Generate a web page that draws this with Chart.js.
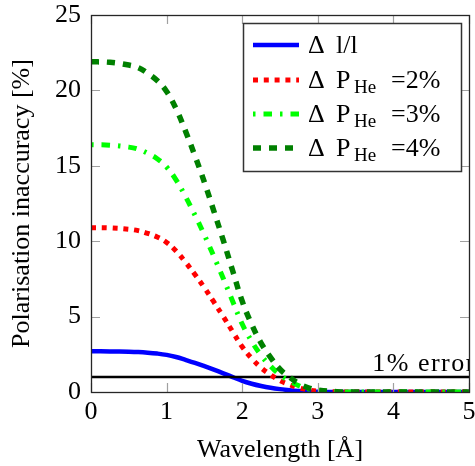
<!DOCTYPE html>
<html><head><meta charset="utf-8">
<script src="https://cdn.jsdelivr.net/npm/chart.js@4/dist/chart.umd.min.js"></script>
<style>html,body{margin:0;padding:0;background:#fff}#wrap{width:475px;height:466px}</style>
</head><body><div id="wrap"><canvas id="c" width="475" height="466"></canvas></div>
<script>
// ---- data ----
const wavelength = [0, 0.25, 0.5, 0.625, 0.75, 0.875, 1, 1.125, 1.25, 1.375, 1.5, 1.625, 1.75, 1.875, 2, 2.125, 2.25, 2.375, 2.5, 2.625, 2.75, 2.875, 3, 3.25, 3.5, 4, 4.5, 5];
const deltaLL = [2.7, 2.69, 2.67, 2.65, 2.61, 2.55, 2.46, 2.32, 2.13, 1.93, 1.71, 1.48, 1.24, 0.99, 0.74, 0.55, 0.40, 0.28, 0.19, 0.12, 0.07, 0.035, 0.016, 0.003, 0, 0, 0, 0];
const deltaP2 = [10.9, 10.88, 10.79, 10.7, 10.52, 10.28, 9.92, 9.35, 8.61, 7.79, 6.92, 5.97, 5.0, 3.99, 3.0, 2.23, 1.61, 1.14, 0.75, 0.49, 0.27, 0.14, 0.065, 0.011, 0, 0, 0, 0];
const deltaP3 = [16.4, 16.37, 16.24, 16.1, 15.83, 15.47, 14.92, 14.07, 12.96, 11.73, 10.41, 8.99, 7.53, 6.0, 4.51, 3.36, 2.43, 1.72, 1.13, 0.74, 0.41, 0.21, 0.1, 0.016, 0, 0, 0, 0];
const deltaP4 = [21.9, 21.86, 21.68, 21.51, 21.13, 20.65, 19.93, 18.79, 17.3, 15.66, 13.91, 12.0, 10.05, 8.02, 6.02, 4.49, 3.24, 2.3, 1.51, 0.99, 0.55, 0.28, 0.13, 0.02, 0, 0, 0, 0];
const errorX = [0, 5];
const errorY = [1, 1];
const errorLabel = '1% error';
const xTicks = [0, 1, 2, 3, 4, 5];
const yTicks = [0, 5, 10, 15, 20, 25];
const xTitle = 'Wavelength [Å]';
const yTitle = 'Polarisation inaccuracy [%]';
const legendRows = [
  {pre: 'Δ', main: 'l/l', sub: '', post: ''},
  {pre: 'Δ', main: 'P', sub: 'He', post: '=2%'},
  {pre: 'Δ', main: 'P', sub: 'He', post: '=3%'},
  {pre: 'Δ', main: 'P', sub: 'He', post: '=4%'}
];

const FONT = "'Liberation Serif', 'Times New Roman', serif";
const pts = (xs, ys) => xs.map((x, i) => ({x, y: ys[i]}));

const datasets = [
  {label: 'Δ l/l', data: pts(wavelength, deltaLL), borderColor: '#0000ff', borderWidth: 4.5, borderDash: [], order: 5},
  {label: 'Δ PHe =2%', data: pts(wavelength, deltaP2), borderColor: '#ff0000', borderWidth: 5, borderDash: [5, 5.8], order: 3},
  {label: 'Δ PHe =3%', data: pts(wavelength, deltaP3), borderColor: '#00ff00', borderWidth: 5, borderDash: [2.5, 8, 8.5, 8], order: 2},
  {label: 'Δ PHe =4%', data: pts(wavelength, deltaP4), borderColor: '#008000', borderWidth: 5.5, borderDash: [8, 8], order: 1},
  {label: 'err', data: pts(errorX, errorY), borderColor: '#000000', borderWidth: 2.5, borderDash: [], order: 4, tension: 0}
].map(d => Object.assign({pointRadius: 0, fill: false, tension: 0.4, borderCapStyle: 'butt', borderJoinStyle: 'round'}, d));

const deco = {
  id: 'deco',
  afterDraw(chart) {
    const ctx = chart.ctx, a = chart.chartArea;
    const xs = chart.scales.x, ys = chart.scales.y;
    ctx.save();
    // "1% error" label, clipped at the plot area
    ctx.save();
    ctx.beginPath(); ctx.rect(a.left, a.top, a.right - a.left, a.bottom - a.top); ctx.clip();
    ctx.font = '26px ' + FONT; ctx.fillStyle = '#000'; ctx.textBaseline = 'alphabetic'; ctx.textAlign = 'left';
    ctx.letterSpacing = '1.5px';
    ctx.fillText(errorLabel, xs.getPixelForValue(3.72), ys.getPixelForValue(1) - 6);
    ctx.letterSpacing = '0px';
    ctx.restore();
    // inner ticks on all sides
    ctx.strokeStyle = '#a0a0a0'; ctx.lineWidth = 1.2; ctx.setLineDash([]);
    const TL = 9;
    xs.ticks.forEach(t => {
      const px = Math.round(xs.getPixelForValue(t.value)) + 0.5;
      ctx.beginPath(); ctx.moveTo(px, a.bottom); ctx.lineTo(px, a.bottom - TL);
      ctx.moveTo(px, a.top); ctx.lineTo(px, a.top + TL); ctx.stroke();
    });
    ys.ticks.forEach(t => {
      const py = Math.round(ys.getPixelForValue(t.value)) + 0.5;
      ctx.beginPath(); ctx.moveTo(a.left, py); ctx.lineTo(a.left + TL, py);
      ctx.moveTo(a.right, py); ctx.lineTo(a.right - TL, py); ctx.stroke();
    });
    // frame
    ctx.strokeStyle = '#262626'; ctx.lineWidth = 1.3;
    ctx.strokeRect(Math.round(a.left) + 0.5, Math.round(a.top) + 0.5, Math.round(a.right - a.left), Math.round(a.bottom - a.top));
    // legend
    const L = {left: 243, top: 23, right: 461, bottom: 171};
    ctx.fillStyle = '#fff';
    ctx.fillRect(L.left, L.top, L.right - L.left, L.bottom - L.top);
    ctx.strokeStyle = '#333'; ctx.lineWidth = 1.5;
    ctx.strokeRect(L.left + 0.5, L.top + 0.5, L.right - L.left, L.bottom - L.top);
    const rowY = [45, 80, 114, 148];
    legendRows.forEach((r, i) => {
      const ds = datasets[i];
      const y = rowY[i];
      ctx.save();
      ctx.strokeStyle = ds.borderColor; ctx.lineWidth = ds.borderWidth; ctx.lineCap = 'butt';
      ctx.setLineDash(ds.borderDash);
      ctx.beginPath(); ctx.moveTo(253, y); ctx.lineTo(299, y); ctx.stroke();
      ctx.restore();
      ctx.fillStyle = '#000'; ctx.textAlign = 'left'; ctx.textBaseline = 'alphabetic';
      ctx.font = '26px ' + FONT;
      const base = y + 8;
      ctx.fillText(r.pre, 308, base);
      ctx.fillText(r.main, 336, base);
      if (r.sub) {
        ctx.font = '19px ' + FONT;
        ctx.fillText(r.sub, 354, base + 5);
        ctx.font = '26px ' + FONT;
        ctx.fillText(r.post, 391, base);
      }
    });
    ctx.restore();
  }
};

new Chart(document.getElementById('c'), {
  type: 'line',
  data: {datasets},
  options: {
    responsive: false, animation: false, devicePixelRatio: 1,
    layout: {autoPadding: false, padding: {top: 15, right: 6, left: 0, bottom: 0}},
    plugins: {legend: {display: false}, tooltip: {enabled: false}},
    scales: {
      x: {
        type: 'linear', min: 0, max: 5,
        afterBuildTicks: s => { s.ticks = xTicks.map(v => ({value: v})); },
        afterFit: s => { s.height = 74; s.paddingLeft = 0; s.paddingRight = 0; s.paddingTop = 0; s.paddingBottom = 0; },
        grid: {display: false, drawTicks: false}, border: {display: false},
        ticks: {padding: 5, color: '#000', font: {family: FONT, size: 26}, autoSkip: false, maxRotation: 0},
        title: {display: true, text: xTitle, color: '#000', font: {family: FONT, size: 26}, padding: {top: 0, bottom: 0}}
      },
      y: {
        type: 'linear', min: 0, max: 25,
        afterBuildTicks: s => { s.ticks = yTicks.map(v => ({value: v})); },
        afterFit: s => { s.width = 91; s.paddingLeft = 0; s.paddingRight = 0; s.paddingTop = 0; s.paddingBottom = 0; },
        grid: {display: false, drawTicks: false}, border: {display: false},
        ticks: {padding: 10, color: '#000', font: {family: FONT, size: 26}, autoSkip: false},
        title: {display: true, text: yTitle, color: '#000', font: {family: FONT, size: 26}, padding: {top: 7, bottom: 0}}
      }
    }
  },
  plugins: [deco]
});
</script></body></html>
